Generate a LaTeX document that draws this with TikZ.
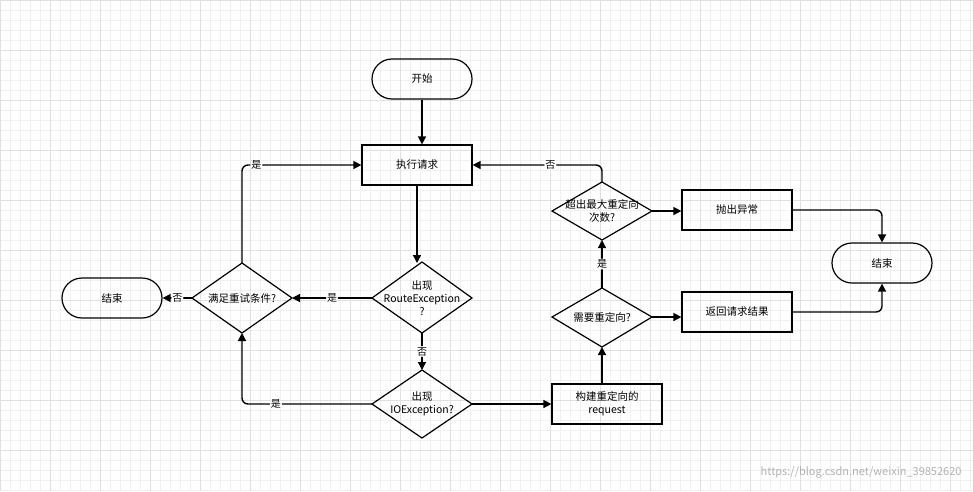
\documentclass[tikz,border=0pt]{standalone}
\usepackage{fontspec}
\setmainfont{Noto Sans CJK SC}
\usetikzlibrary{arrows.meta}
\begin{document}
\begin{tikzpicture}[x=1pt,y=-1pt,
 every node/.style={font=\fontsize{10.5}{13}\selectfont},
 box/.style={draw,line width=1.2pt,minimum width=110pt,minimum height=40pt,inner sep=0pt,align=center},
 pill/.style={draw,line width=1.2pt,rounded corners=20pt,minimum width=100pt,minimum height=40pt,inner sep=0pt},
 dia/.style={draw,line width=1.2pt,inner sep=0pt,align=center},
 arr/.style={line width=1.4pt,-{Triangle[length=8pt,width=8pt]},rounded corners=6pt},
 lab/.style={fill=white,inner sep=1pt,font=\fontsize{10}{12}\selectfont}]
\useasboundingbox (0,0) rectangle (973,491);
\fill[white] (0,0) rectangle (973,491);
\foreach \i in {0,10,...,970} \draw[black!6,line width=0.5pt] (\i,0)--(\i,491);
\foreach \j in {0,10,...,490} \draw[black!6,line width=0.5pt] (0,\j)--(973,\j);
\foreach \i in {0,50,...,950} \draw[black!12,line width=0.6pt] (\i,0)--(\i,491);
\foreach \j in {0,50,...,450} \draw[black!12,line width=0.6pt] (0,\j)--(973,\j);
\node[pill] (start) at (422,79) {开始};
\node[box] (exec) at (417,165) {执行请求};
\draw[dia] (372,298)--(422,262)--(472,298)--(422,333)--cycle;
\node[align=center] (route) at (422,298) {出现\\RouteException\\?};
\coordinate (rT) at (417,263); \coordinate (rL) at (372,298); \coordinate (rB) at (422,333);
\draw[dia] (372,404)--(422,370)--(472,404)--(422,438)--cycle;
\node[align=center] (io) at (422,404) {出现\\IOException?};
\coordinate (iT) at (422,370); \coordinate (iL) at (372,404); \coordinate (iR) at (472,404);
\draw[dia] (192,298)--(242,263)--(292,298)--(242,333)--cycle;
\node (retry) at (242,298) {满足重试条件?};
\coordinate (tT) at (242,263); \coordinate (tL) at (192,298); \coordinate (tR) at (292,298); \coordinate (tB) at (242,333);
\node[pill] (endL) at (112,298) {结束};
\node[box] (build) at (607,404) {构建重定向的\\request};
\draw[dia] (552,317)--(602,288)--(652,317)--(602,347)--cycle;
\node (need) at (602,317) {需要重定向?};
\coordinate (nT) at (602,288); \coordinate (nR) at (652,317); \coordinate (nB) at (602,347);
\draw[dia] (552,211)--(602,182)--(652,211)--(602,240)--cycle;
\node[align=center] (over) at (602,211) {超出最大重定向\\次数?};
\coordinate (oT) at (602,182); \coordinate (oR) at (652,211); \coordinate (oB) at (602,240);
\node[box] (throw) at (737,210) {抛出异常};
\node[box] (ret) at (737,312) {返回请求结果};
\node[pill] (endR) at (882,263) {结束};
\draw[arr] (start)--(exec.north -| start);
\draw[arr] (exec.south -| rT)--(rT);
\draw[arr] (rL)--node[lab]{是}(tR);
\draw[arr] (rB)--node[lab]{否}(iT);
\draw[arr] (iL)-|(tB) node[lab,pos=0.37]{是};
\draw[arr] (tT)|-(exec.west) node[lab,pos=0.56]{是};
\draw[arr] (tL)--node[lab]{否}(endL);
\draw[arr] (iR)--(build.west);
\draw[arr] (build.north -| nB)--(nB);
\draw[arr] (nT)--node[lab]{是}(oB);
\draw[arr] (nR)--(ret.west |- nR);
\draw[arr] (oR)--(throw.west |- oR);
\draw[arr] (oT)|-(exec.east) node[lab,pos=0.7]{否};
\draw[arr] (throw.east)-|(endR.north);
\draw[arr] (ret.east)-|(endR.south);
\node[text=black!30,font=\fontsize{11}{13}\selectfont,anchor=south east] (wm) at (965,482) {https://blog.csdn.net/weixin\_39852620};
\end{tikzpicture}
\end{document}
